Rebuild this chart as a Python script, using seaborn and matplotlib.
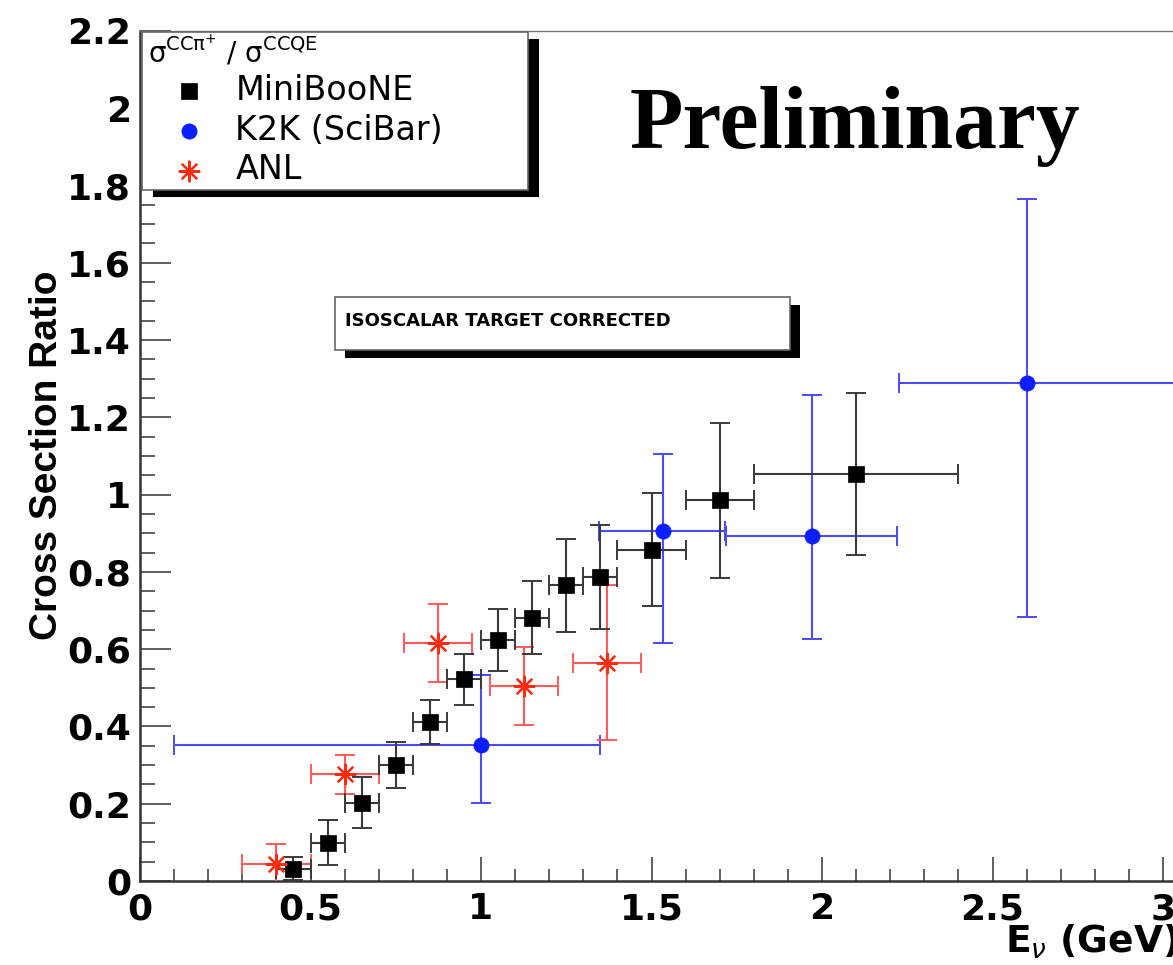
import matplotlib
matplotlib.use("Agg")
import matplotlib.pyplot as plt
import seaborn as sns
import pandas as pd
from matplotlib.patches import Rectangle
from matplotlib.ticker import MultipleLocator, FuncFormatter

# ---- data -----------------------------------------------------------------
# MiniBooNE CC pi+ / CCQE ratio
mb_energy = [0.45, 0.55, 0.65, 0.75, 0.85, 0.95, 1.05, 1.15, 1.25, 1.35, 1.50, 1.70, 2.10]
mb_energy_err = [0.05, 0.05, 0.05, 0.05, 0.05, 0.05, 0.05, 0.05, 0.05, 0.05, 0.10, 0.10, 0.30]
mb_ratio = [0.032, 0.099, 0.203, 0.300, 0.412, 0.522, 0.624, 0.682, 0.765, 0.786, 0.858, 0.985, 1.054]
mb_ratio_err = [0.030, 0.058, 0.066, 0.060, 0.057, 0.066, 0.080, 0.095, 0.120, 0.135, 0.146, 0.200, 0.210]

# K2K (SciBar), asymmetric errors
k2k_energy = [1.00, 1.535, 1.97, 2.60]
k2k_energy_lo = [0.90, 0.188, 0.251, 0.375]
k2k_energy_hi = [0.348, 0.180, 0.250, 0.600]
k2k_ratio = [0.352, 0.905, 0.894, 1.288]
k2k_ratio_lo = [0.150, 0.288, 0.268, 0.605]
k2k_ratio_hi = [0.180, 0.199, 0.363, 0.476]

# ANL
anl_energy = [0.40, 0.60, 0.875, 1.125, 1.37]
anl_energy_err = [0.10, 0.10, 0.10, 0.10, 0.10]
anl_ratio = [0.045, 0.276, 0.616, 0.505, 0.565]
anl_ratio_err = [0.05, 0.05, 0.10, 0.10, 0.20]

x_ticks = [0, 0.5, 1, 1.5, 2, 2.5, 3]
y_ticks = [0, 0.2, 0.4, 0.6, 0.8, 1.0, 1.2, 1.4, 1.6, 1.8, 2.0, 2.2]

# ---- style ----------------------------------------------------------------
sns.set_theme(style="ticks")
plt.rcParams["font.family"] = ["DejaVu Sans"]
plt.rcParams["mathtext.fontset"] = "dejavusans"
plt.rcParams["text.color"] = "black"
plt.rcParams["axes.labelcolor"] = "black"
plt.rcParams["xtick.color"] = "black"
plt.rcParams["ytick.color"] = "black"

W, H = 1173, 965
fig = plt.figure(figsize=(W / 100, H / 100), dpi=100)
fig.patch.set_facecolor("white")


def fx(px):
    return px / W


def fy(py):
    return 1 - py / H


ax = fig.add_axes([fx(140), fy(881), fx(W) - fx(140), fy(31) - fy(881)])
ax.set_facecolor("white")
ax.set_xlim(0, 1033 / 341)
ax.set_ylim(0, 2.2)

BLACK_LINE = "#3a3a3a"
BLUE_LINE = "#4a4aff"
BLUE_MARK = "#0a1eff"
RED_LINE = "#ff5a5a"
RED_MARK = "#ff2a10"

mb = pd.DataFrame({"E": mb_energy, "ratio": mb_ratio})
k2k = pd.DataFrame({"E": k2k_energy, "ratio": k2k_ratio})
anl = pd.DataFrame({"E": anl_energy, "ratio": anl_ratio})

eb = dict(fmt="none", capsize=7, capthick=1.4, elinewidth=1.5, zorder=3)
ax.errorbar(k2k_energy, k2k_ratio, xerr=[k2k_energy_lo, k2k_energy_hi],
            yerr=[k2k_ratio_lo, k2k_ratio_hi], ecolor=BLUE_LINE, **eb)
ax.errorbar(anl_energy, anl_ratio, xerr=anl_energy_err, yerr=anl_ratio_err,
            ecolor=RED_LINE, **eb)
ax.errorbar(mb_energy, mb_ratio, xerr=mb_energy_err, yerr=mb_ratio_err,
            ecolor=BLACK_LINE, **eb)

sns.scatterplot(data=mb, x="E", y="ratio", marker="s", s=120, color="black",
                edgecolor="black", linewidth=0.5, zorder=4, ax=ax, label="MiniBooNE")
sns.scatterplot(data=k2k, x="E", y="ratio", marker="o", s=120, color=BLUE_MARK,
                edgecolor=BLUE_MARK, linewidth=0.5, zorder=4, ax=ax, label="K2K (SciBar)")
sns.scatterplot(data=anl, x="E", y="ratio", marker=(8, 2, 0), s=200, color=RED_MARK,
                linewidth=1.6, zorder=4, ax=ax, label="ANL")

# ---- axes -----------------------------------------------------------------
ax.set_xlabel("")
ax.set_ylabel("")
ax.set_xticks(x_ticks)
ax.set_yticks(y_ticks)
ax.xaxis.set_minor_locator(MultipleLocator(0.1))
ax.yaxis.set_minor_locator(MultipleLocator(0.05))
fmt = FuncFormatter(lambda v, p: f"{v:g}")
ax.xaxis.set_major_formatter(fmt)
ax.yaxis.set_major_formatter(fmt)
ax.tick_params(axis="x", which="major", direction="in", length=17, width=1.1,
               color="#333333", pad=8, labelsize=26, labelcolor="black")
ax.tick_params(axis="x", which="minor", direction="in", length=8.5, width=1.1, color="#333333")
ax.tick_params(axis="y", which="major", direction="in", length=22, width=1.1,
               color="#333333", pad=6.5, labelsize=26, labelcolor="black")
ax.tick_params(axis="y", which="minor", direction="in", length=11, width=1.1, color="#333333")
for lab in ax.get_xticklabels() + ax.get_yticklabels():
    lab.set_fontweight("bold")

ax.spines["right"].set_visible(False)
ax.spines["left"].set_linewidth(1.8)
ax.spines["left"].set_color("#333333")
ax.spines["bottom"].set_linewidth(1.8)
ax.spines["bottom"].set_color("#333333")
ax.spines["top"].set_linewidth(1.0)
ax.spines["top"].set_color("#777777")


def shadow_box(x0, y0, x1, y1, dx, dy):
    ax.add_patch(Rectangle((fx(x0 + dx), fy(y1 + dy)), fx(x1 + dx) - fx(x0 + dx),
                           fy(y0 + dy) - fy(y1 + dy), transform=fig.transFigure,
                           facecolor="black", edgecolor="none", clip_on=False, zorder=6))
    ax.add_patch(Rectangle((fx(x0), fy(y1)), fx(x1) - fx(x0), fy(y0) - fy(y1),
                           transform=fig.transFigure, facecolor="white",
                           edgecolor="#666666", linewidth=1.2, clip_on=False, zorder=7))


# legend box
shadow_box(142, 32, 528, 190, 11, 7)
leg = ax.legend(loc="upper left", bbox_to_anchor=(fx(172), fy(74)),
                bbox_transform=fig.transFigure, frameon=False, borderpad=0,
                borderaxespad=0, handlelength=1.0, handletextpad=0.9,
                labelspacing=0.2, prop={"size": 24, "weight": "normal"})
leg.set_zorder(8)
for t in leg.get_texts():
    t.set_color("black")
fig.text(fx(148), fy(62),
         r"$\mathrm{\sigma}^{\mathrm{CC}\mathrm{\pi}^{+}}$ / $\mathrm{\sigma}^{\mathrm{CCQE}}$",
         fontsize=20, fontweight="normal", ha="left", va="baseline", zorder=10)

# note box
shadow_box(335, 297, 790, 350, 10, 8)
fig.text(fx(345), fy(321), "ISOSCALAR TARGET CORRECTED", fontsize=13,
         fontweight="bold", ha="left", va="center", zorder=10)

fig.text(fx(630), fy(148), "Preliminary", fontsize=63, fontweight="bold",
         family=["Liberation Serif"], ha="left", va="baseline")

fig.text(fx(47), fy(455), "Cross Section Ratio", rotation=90, fontsize=28,
         fontweight="bold", family=["Liberation Sans"], ha="center", va="center")
fig.text(fx(1178), fy(942), r"E$_{\nu}$ (GeV)", fontsize=27, fontweight="bold",
         ha="right", va="center")

fig.savefig("out.png", dpi=100, facecolor="white")
